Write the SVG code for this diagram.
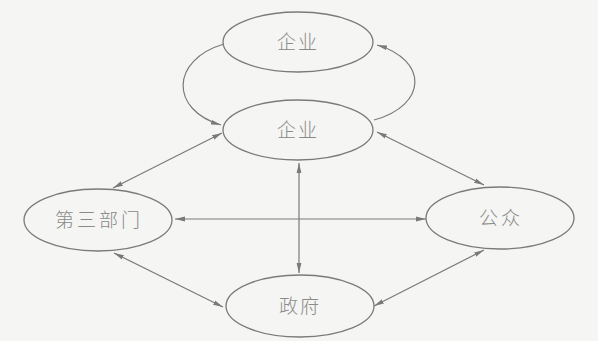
<svg xmlns="http://www.w3.org/2000/svg" width="598" height="341" viewBox="0 0 598 341">
<defs>
<style>
.node{fill:none;stroke:#7a7a7a;stroke-width:1.3}
.lbl{font-family:"Noto Sans CJK SC","Noto Sans",sans-serif;font-size:19px;font-weight:300;fill:#8a8a8a;text-anchor:middle}
.c{fill:none;stroke:#7a7a7a;stroke-width:1.2}
</style>
<marker id="ah" viewBox="0 0 10 6" refX="10" refY="3" markerWidth="10" markerHeight="6" markerUnits="userSpaceOnUse" orient="auto-start-reverse">
<path d="M0,0.6 L10,3 L0,5.4 Z" fill="#7a7a7a"/>
</marker>
</defs>
<rect width="598" height="341" fill="#f5f5f3"/>
<g id="connectors">
<path class="c" d="M224,44 C170,60 170,110 221,125" marker-end="url(#ah)"/>
<path class="c" d="M374,120 C428,105 428,60 377,45" marker-end="url(#ah)"/>
<line class="c" x1="113" y1="188" x2="222" y2="133" marker-start="url(#ah)" marker-end="url(#ah)"/>
<line class="c" x1="377" y1="132" x2="484" y2="185" marker-start="url(#ah)" marker-end="url(#ah)"/>
<line class="c" x1="175" y1="219" x2="426" y2="219" marker-start="url(#ah)" marker-end="url(#ah)"/>
<line class="c" x1="299" y1="163" x2="299" y2="273" marker-start="url(#ah)" marker-end="url(#ah)"/>
<line class="c" x1="114" y1="253" x2="223" y2="307" marker-start="url(#ah)" marker-end="url(#ah)"/>
<line class="c" x1="484" y1="250" x2="374" y2="306" marker-start="url(#ah)" marker-end="url(#ah)"/>
</g>
<g id="qiye-top">
<ellipse class="node" cx="298" cy="42" rx="75" ry="30"/>
<text class="lbl" x="298" y="49" letter-spacing="2">企业</text>
</g>
<g id="qiye">
<ellipse class="node" cx="298" cy="130" rx="75" ry="30"/>
<text class="lbl" x="298" y="137" letter-spacing="2">企业</text>
</g>
<g id="disanbumen">
<ellipse class="node" cx="98" cy="220" rx="74" ry="31"/>
<text class="lbl" x="99" y="227" letter-spacing="3">第三部门</text>
</g>
<g id="gongzhong">
<ellipse class="node" cx="500" cy="218" rx="74" ry="31"/>
<text class="lbl" x="501" y="225" letter-spacing="3">公众</text>
</g>
<g id="zhengfu">
<ellipse class="node" cx="300" cy="306" rx="74" ry="31"/>
<text class="lbl" x="300" y="313" letter-spacing="2">政府</text>
</g>
</svg>
